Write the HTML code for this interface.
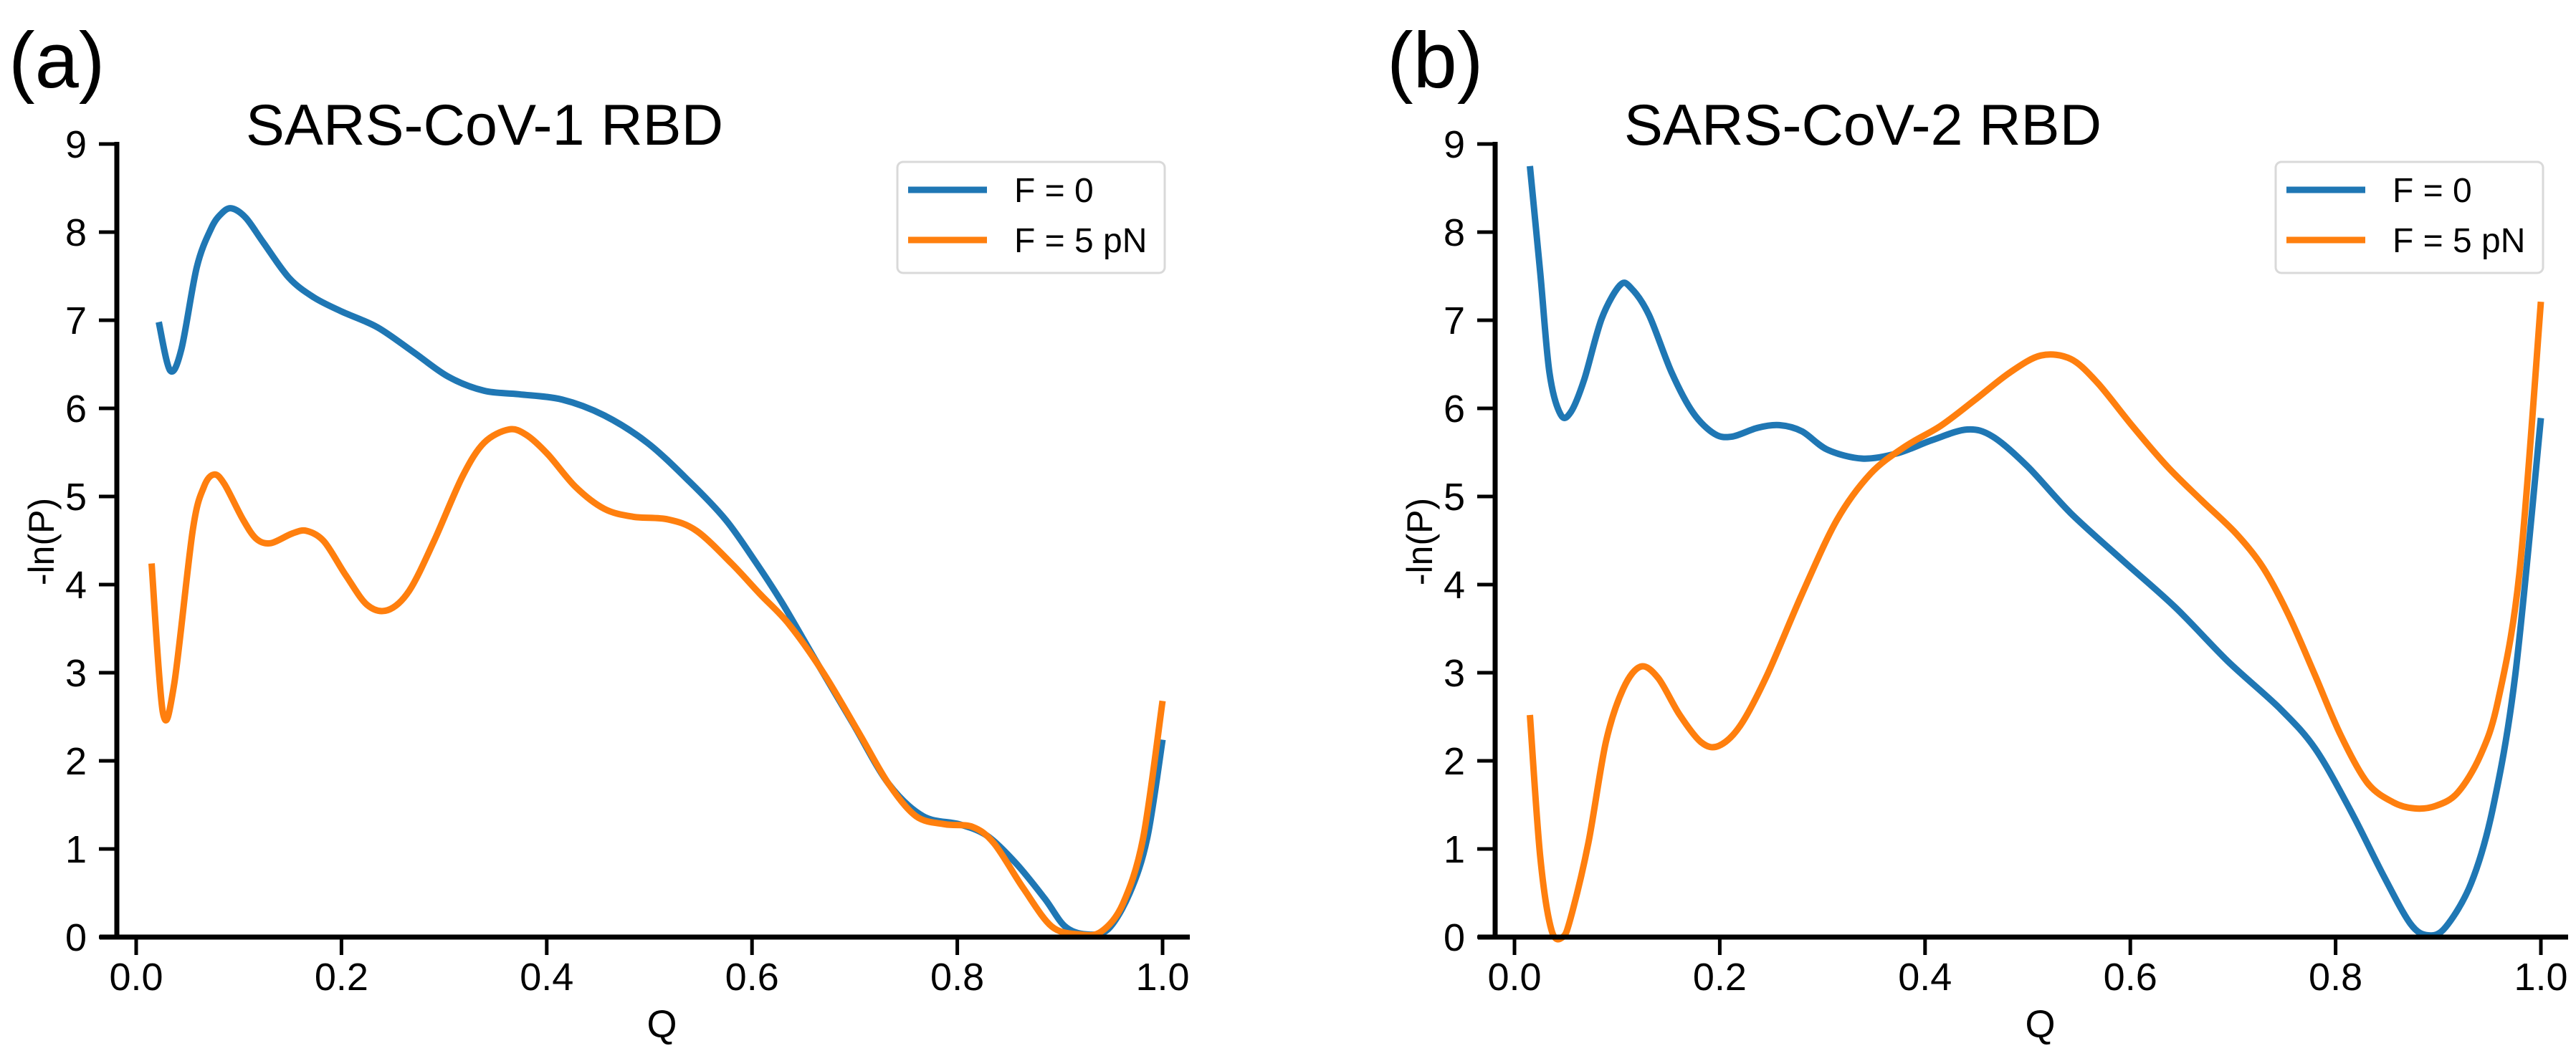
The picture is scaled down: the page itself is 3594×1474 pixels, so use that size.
<!DOCTYPE html>
<html><head><meta charset="utf-8"><style>
html,body{margin:0;padding:0;background:#fff;}
svg{display:block;font-family:"Liberation Sans",Arial,sans-serif;}
</style></head><body>
<svg id="fig" width="3594" height="1474" viewBox="0 0 3594 1474" xmlns="http://www.w3.org/2000/svg"></svg>
<script>
const xTicks=[0,0.2,0.4,0.6,0.8,1.0];
const xTickLabels=["0.0","0.2","0.4","0.6","0.8","1.0"];
const yTicks=[0,1,2,3,4,5,6,7,8,9];
const seriesNames=["F = 0","F = 5 pN"];
const seriesColors=["#1f77b4","#ff7f0e"];
// Panel (a)
const aBlueQ=[.022,.033,.044,.059,.073,.083,.093,.107,.124,.149,.173,.2,.235,.27,.304,.339,.373,.415,.456,.498,.539,.574,.601,.629,.663,.698,.733,.767,.802,.829,.857,.885,.905,.926,.947,.968,.985,1.0];
const aBlueV=[6.98,6.43,6.67,7.6,8.04,8.21,8.27,8.16,7.88,7.48,7.26,7.1,6.92,6.64,6.36,6.2,6.16,6.1,5.92,5.61,5.17,4.74,4.3,3.8,3.12,2.43,1.74,1.37,1.28,1.15,.84,.44,.12,.03,.09,.5,1.12,2.24];
const aOrangeQ=[.015,.026,.037,.055,.066,.076,.086,.104,.117,.131,.152,.166,.183,.204,.225,.245,.266,.29,.318,.339,.363,.38,.401,.428,.456,.484,.518,.546,.58,.608,.636,.67,.705,.733,.76,.788,.815,.836,.864,.892,.919,.94,.961,.981,1.0];
const aOrangeV=[4.24,2.55,2.87,4.61,5.11,5.25,5.14,4.74,4.52,4.47,4.58,4.61,4.49,4.11,3.77,3.71,3.93,4.49,5.23,5.61,5.76,5.7,5.48,5.11,4.86,4.77,4.74,4.61,4.24,3.89,3.55,2.99,2.3,1.74,1.37,1.28,1.25,1.06,.56,.12,.03,.06,.37,1.12,2.68];
// Panel (b)
const bBlueQ=[.015,.025,.034,.045,.055,.068,.085,.103,.114,.131,.153,.174,.195,.212,.237,.258,.28,.305,.339,.373,.407,.441,.466,.5,.542,.593,.644,.695,.746,.78,.814,.847,.873,.89,.907,.932,.953,.975,1.0];
const bBlueV=[8.75,7.55,6.41,5.93,5.96,6.33,7.02,7.4,7.36,7.06,6.41,5.95,5.71,5.68,5.78,5.81,5.74,5.53,5.43,5.49,5.64,5.76,5.68,5.34,4.81,4.27,3.74,3.13,2.59,2.14,1.45,.69,.15,.02,.11,.61,1.45,2.97,5.89];
const bOrangeQ=[.015,.025,.036,.047,.055,.072,.089,.106,.123,.14,.161,.182,.199,.22,.246,.28,.314,.347,.381,.415,.449,.483,.513,.542,.568,.602,.636,.669,.703,.729,.754,.78,.805,.831,.856,.877,.898,.919,.941,.958,.979,1.0];
const bOrangeV=[2.52,.92,.08,0,.23,1.07,2.21,2.82,3.07,2.94,2.52,2.21,2.17,2.4,2.97,3.89,4.73,5.26,5.57,5.8,6.1,6.41,6.6,6.56,6.29,5.8,5.34,4.96,4.58,4.2,3.66,2.97,2.29,1.75,1.53,1.46,1.49,1.64,2.06,2.67,4.12,7.21];

const NS="http://www.w3.org/2000/svg";
const svg=document.getElementById('fig');
function mk(tag,attrs,parent,text){const e=document.createElementNS(NS,tag);for(const k in attrs)e.setAttribute(k,attrs[k]);if(text!==undefined)e.textContent=text;(parent||svg).appendChild(e);return e;}
function smooth(pts){
  let d='M'+pts[0][0].toFixed(1)+','+pts[0][1].toFixed(1);
  for(let i=0;i<pts.length-1;i++){
    const p0=pts[Math.max(0,i-1)],p1=pts[i],p2=pts[i+1],p3=pts[Math.min(pts.length-1,i+2)];
    const t=0.16;
    const c1=[p1[0]+(p2[0]-p0[0])*t,p1[1]+(p2[1]-p0[1])*t];
    const c2=[p2[0]-(p3[0]-p1[0])*t,p2[1]-(p3[1]-p1[1])*t];
    d+=' C'+c1[0].toFixed(1)+','+c1[1].toFixed(1)+' '+c2[0].toFixed(1)+','+c2[1].toFixed(1)+' '+p2[0].toFixed(1)+','+p2[1].toFixed(1);
  }
  return d;
}

function panel(off,letter,title,series){
  const g=mk('g',{});
  
  
  const yAxisX=163+off, x0=190+off, xUnit=1432, y0=1308, yUnit=123;
  const X=q=>x0+q*xUnit, Y=v=>y0-v*yUnit;
  const lab=mk('text',{x:12+off,y:122,'font-size':110},g,'('+letter+')');
  
  
  const t=mk('text',{x:676+off,y:202,'font-size':81,'text-anchor':'middle'},g,title);
  
  
  series.forEach((s,i)=>{
    const pts=s.q.map((q,j)=>[X(q),Y(s.v[j])]);
    const p=mk('path',{d:smooth(pts),fill:'none',stroke:seriesColors[i],'stroke-width':9,'stroke-linejoin':'round','stroke-linecap':'butt'},g);
    
    
  });
  const ya=mk('line',{x1:yAxisX,y1:Y(9)-3,x2:yAxisX,y2:y0+3,stroke:'#000','stroke-width':7},g);
  
  
  const xa=mk('line',{x1:yAxisX-24,y1:y0,x2:1660+off,y2:y0,stroke:'#000','stroke-width':7},g);
  
  
  yTicks.forEach(v=>{
    const tk=mk('line',{x1:yAxisX-25,y1:Y(v),x2:yAxisX,y2:Y(v),stroke:'#000','stroke-width':5},g);
    
    
    const tl=mk('text',{x:yAxisX-42,y:Y(v)+19,'font-size':54,'text-anchor':'end'},g,String(v));
    
    
  });
  xTicks.forEach((q,i)=>{
    const tk=mk('line',{x1:X(q),y1:y0,x2:X(q),y2:y0+25,stroke:'#000','stroke-width':5},g);
    
    
    const tl=mk('text',{x:X(q),y:y0+74,'font-size':54,'text-anchor':'middle'},g,xTickLabels[i]);
    
    
  });
  const xl=mk('text',{x:(yAxisX+1660+off)/2+12,y:1448,'font-size':54,'text-anchor':'middle'},g,'Q');
  
  
  const yx=yAxisX-105;
  const yl=mk('text',{x:yx,y:756,'font-size':50,'text-anchor':'middle',transform:'rotate(-90 '+yx+' 756)'},g,'-ln(P)');
  yl.setAttribute('dy','17');
  
  
  const lg=mk('g',{},g);
  
  
  mk('rect',{x:1252+off,y:226,width:373,height:155,rx:8,fill:'#fff',stroke:'#d9d9d9','stroke-width':3},lg);
  seriesNames.forEach((n,i)=>{
    const yy=265+i*70;
    const h=mk('line',{x1:1267+off,y1:yy,x2:1377+off,y2:yy,stroke:seriesColors[i],'stroke-width':9},lg);
    
    
    const tx=mk('text',{x:1415+off,y:yy+17,'font-size':48},lg,n);
    
    
  });
}
panel(0,'a','SARS-CoV-1 RBD',[{q:aBlueQ,v:aBlueV},{q:aOrangeQ,v:aOrangeV}]);
panel(1923,'b','SARS-CoV-2 RBD',[{q:bBlueQ,v:bBlueV},{q:bOrangeQ,v:bOrangeV}]);
</script>
</body></html>
